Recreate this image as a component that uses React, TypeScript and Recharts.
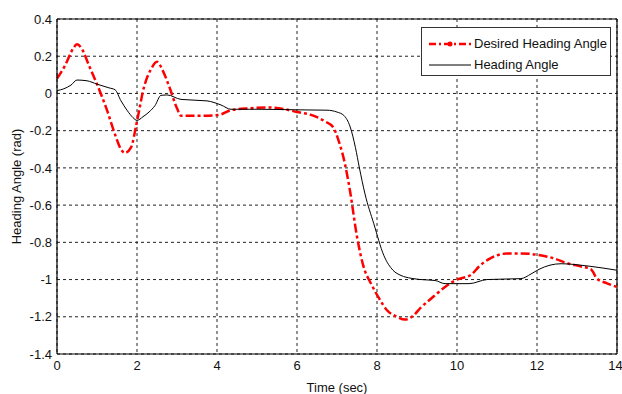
import * as React from 'react';
import {
  LineChart,
  Line,
  XAxis,
  YAxis,
  CartesianGrid,
  ReferenceLine
} from 'recharts';

// Desired heading angle (red dash-dot)
const desiredTime = [
  0, 0.2, 0.4, 0.5, 0.62, 0.8, 1.0, 1.25, 1.45, 1.6, 1.7, 1.85, 2.0, 2.17, 2.35, 2.5, 2.65, 2.8, 3.0, 3.1,
  3.6, 4.05, 4.35, 4.8, 5.25, 5.7, 6.0, 6.35, 6.7, 6.9, 7.05, 7.2, 7.33, 7.5, 7.65, 7.87, 8.05, 8.25, 8.5,
  8.7, 8.9, 9.1, 9.42, 9.7, 10.0, 10.35, 10.55, 10.8, 11.0, 11.25, 11.6, 11.95, 12.4, 12.75, 13.1, 13.35,
  13.5, 13.75, 14
];
const desiredAngle = [
  0.08, 0.15, 0.24, 0.265, 0.24, 0.15, 0.05, -0.09, -0.22, -0.3, -0.32, -0.29, -0.15, 0.03, 0.13, 0.17, 0.12,
  0.04, -0.08, -0.12, -0.12, -0.115, -0.09, -0.08, -0.075, -0.085, -0.1, -0.115, -0.15, -0.18, -0.26, -0.38,
  -0.53, -0.77, -0.92, -1.03, -1.1, -1.165, -1.2, -1.215, -1.195, -1.15, -1.09, -1.04, -1.0, -0.975, -0.93,
  -0.89, -0.87, -0.86, -0.86, -0.865, -0.885, -0.912, -0.93, -0.945, -0.995, -1.02, -1.04
];

// Actual heading angle (black)
const actualTime = [
  0, 0.17, 0.35, 0.5, 0.75, 1.0, 1.3, 1.45, 1.6, 1.75, 1.9, 2.0, 2.15, 2.3, 2.45, 2.6, 2.75, 3.1, 3.75, 4.1,
  4.35, 5.0, 6.0, 6.75, 7.0, 7.17, 7.33, 7.46, 7.56, 7.7, 7.92, 8.17, 8.4, 8.6, 8.85, 9.1, 9.45, 9.7, 10.3,
  10.75, 11.6, 11.85, 12.05, 12.6, 13.3, 14
];
const actualAngle = [
  0.015, 0.025, 0.045, 0.072, 0.068, 0.05, 0.03, 0.02, -0.04, -0.09, -0.13, -0.145, -0.125, -0.1, -0.065,
  -0.01, -0.008, -0.032, -0.04, -0.062, -0.085, -0.085, -0.088, -0.09, -0.1, -0.118, -0.18, -0.29, -0.4,
  -0.54, -0.7, -0.87, -0.95, -0.978, -0.993, -1.0, -1.005, -1.022, -1.022, -1.0, -0.995, -0.97, -0.945,
  -0.915, -0.928, -0.95
];

const xTicks = [0, 2, 4, 6, 8, 10, 12, 14];
const yTicks = [0.4, 0.2, 0, -0.2, -0.4, -0.6, -0.8, -1, -1.2, -1.4];

const FONT = '"Liberation Sans", Arial, sans-serif';

const desiredData = desiredTime.map((t, i) => ({ t, v: desiredAngle[i] }));
const actualData = actualTime.map((t, i) => ({ t, v: actualAngle[i] }));

const formatY = (v: number) => {
  const r = Math.round(v * 10) / 10;
  return r === 0 ? '0' : String(r);
};

// legend drawn as an overlay so it doesn't eat chart space
const LegendBox = () => (
  <div
    style={{
      position: 'absolute',
      left: 421,
      top: 27,
      width: 190,
      height: 49,
      border: '1px solid #333',
      background: '#fff',
      fontFamily: FONT,
      fontSize: 13,
      color: '#111',
      boxSizing: 'border-box',
      padding: '5px 0 0 7px'
    }}
  >
    <div style={{ display: 'flex', alignItems: 'center', height: 21 }}>
      <svg width={42} height={10} style={{ marginRight: 3 }}>
        <line x1={0} y1={5} x2={42} y2={5} stroke="#ff0000" strokeWidth={2.5} strokeDasharray="7 3 2 3" />
        <circle cx={21} cy={5} r={2.5} fill="#ff0000" />
      </svg>
      <span>Desired Heading Angle</span>
    </div>
    <div style={{ display: 'flex', alignItems: 'center', height: 21 }}>
      <svg width={42} height={10} style={{ marginRight: 3 }}>
        <line x1={0} y1={5} x2={42} y2={5} stroke="#000" strokeWidth={1} />
      </svg>
      <span>Heading Angle</span>
    </div>
  </div>
);

export default function App() {
  return (
    <div style={{ position: 'absolute', left: 0, top: 0, width: 622, height: 394, background: '#fff' }}>
      <LineChart width={622} height={394} margin={{ top: 19, right: 5, left: 0, bottom: 0 }}>
        <CartesianGrid stroke="#222" strokeDasharray="3 3" />
        <XAxis
          type="number"
          dataKey="t"
          domain={[0, 14]}
          ticks={xTicks}
          height={40}
          tickLine={false}
          tickSize={4}
          tickMargin={3}
          axisLine={{ stroke: '#000', strokeWidth: 1.2 }}
          tick={{ fill: '#111', fontSize: 13, fontFamily: FONT }}
          allowDuplicatedCategory={false}
          label={{ value: 'Time (sec)', position: 'insideBottom', offset: 2, fill: '#111', fontSize: 13, fontFamily: FONT }}
        />
        <YAxis
          type="number"
          domain={[-1.4, 0.4]}
          ticks={yTicks}
          width={57}
          tickLine={false}
          tickSize={3}
          tickMargin={2}
          interval={0}
          tickFormatter={formatY}
          axisLine={{ stroke: '#000', strokeWidth: 1.2 }}
          tick={{ fill: '#111', fontSize: 13, fontFamily: FONT }}
          label={{
            value: 'Heading Angle (rad)',
            angle: -90,
            position: 'insideLeft',
            offset: 16,
            fill: '#111',
            fontSize: 13,
            fontFamily: FONT,
            style: { textAnchor: 'middle' }
          }}
        />
        <ReferenceLine y={0.4} stroke="#000" strokeWidth={1.2} />
        <ReferenceLine x={14} stroke="#000" strokeWidth={1.2} />
        <Line
          data={desiredData}
          dataKey="v"
          type="monotone"
          stroke="#ff0000"
          strokeWidth={2.5}
          strokeDasharray="9 3 3 3"
          dot={false}
          isAnimationActive={false}
        />
        <Line
          data={actualData}
          dataKey="v"
          type="monotone"
          stroke="#000"
          strokeWidth={1}
          dot={false}
          isAnimationActive={false}
        />
      </LineChart>
      <LegendBox />
    </div>
  );
}
